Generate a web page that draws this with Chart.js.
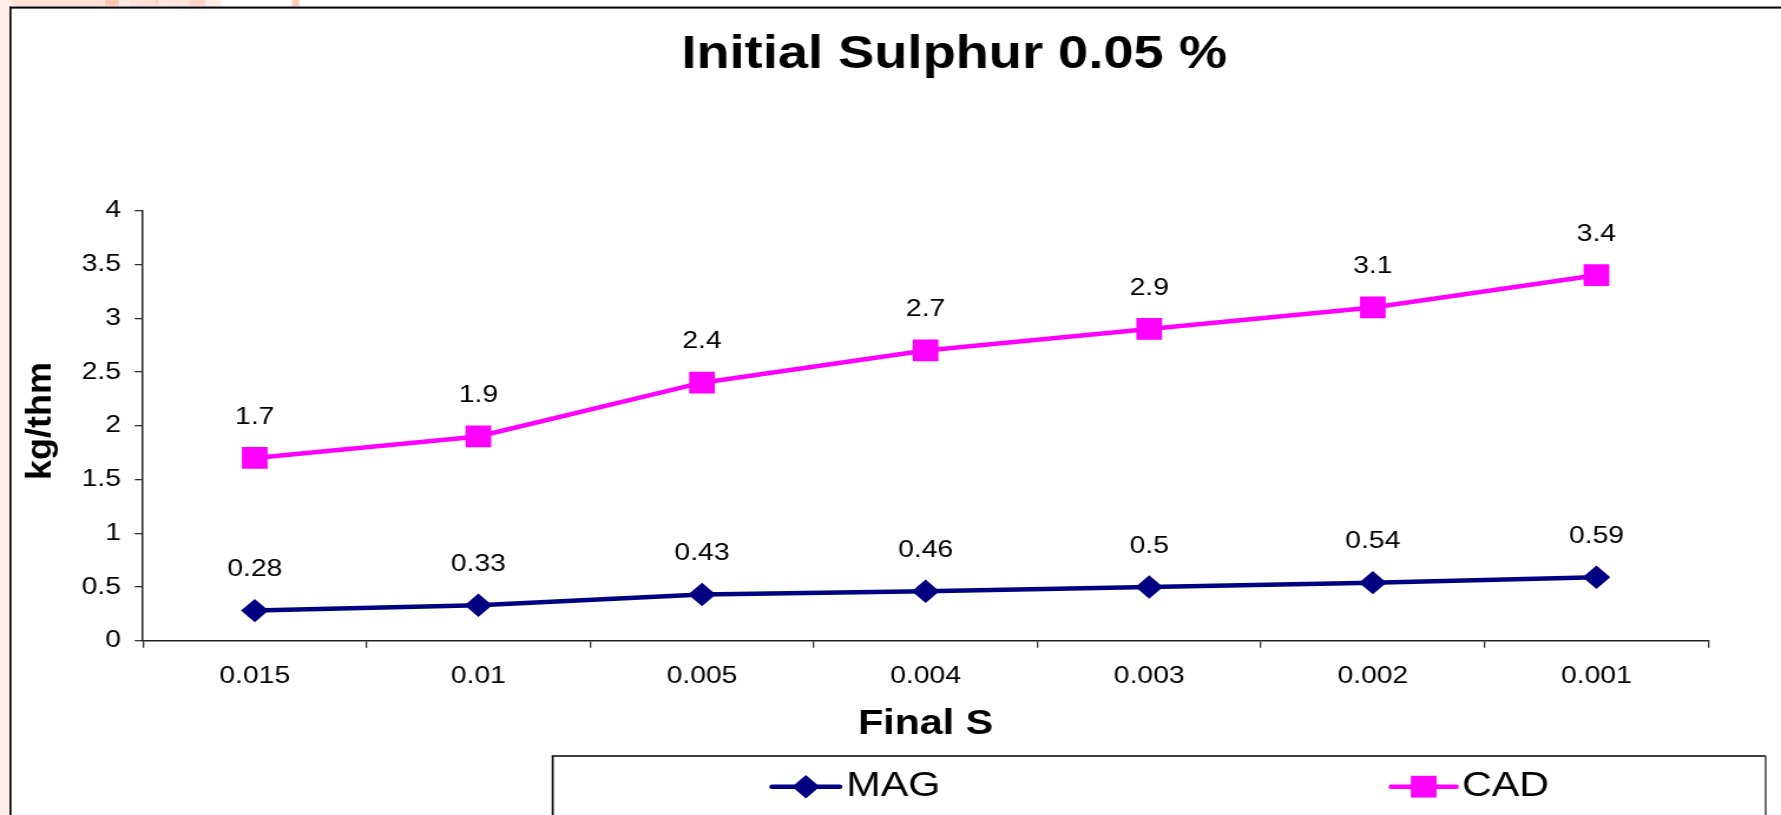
<!DOCTYPE html>
<html lang="en">
<head>
    <title>Initial Sulphur 0.05 %</title>
    <meta charset="UTF-8">
    <script src="https://cdn.jsdelivr.net/npm/chart.js@4.4.1/dist/chart.umd.min.js"></script>
    <style>
        html, body {margin:0;padding:0;background:#fff;overflow:hidden;}
        /* the sheet is drawn narrow and widened, so text and markers come out wide */
        #sulphurChart {display:block;transform:scaleX(1.17947);transform-origin:0 0;}
    </style>
</head>
<body>
<canvas id="sulphurChart" width="1510" height="815"></canvas>
<script>
    const finalS = ['0.015', '0.01', '0.005', '0.004', '0.003', '0.002', '0.001'];
    const magValues = [0.28, 0.33, 0.43, 0.46, 0.5, 0.54, 0.59];
    const cadValues = [1.7, 1.9, 2.4, 2.7, 2.9, 3.1, 3.4];
    const yTicks = [0, 0.5, 1, 1.5, 2, 2.5, 3, 3.5, 4];

    const FONT = 'Arial, "Liberation Sans", Helvetica, sans-serif';
    Chart.defaults.font.family = FONT;
    Chart.defaults.color = '#000';

    // pink strip of the slide behind the chart frame: [from, to, colour] in page px
    const slideBits = [
        [0, 12, '#fdeee9'], [12, 105, '#fde0d6'], [105, 119, '#fcc8b4'], [119, 130, '#fde8e0'],
        [130, 155, '#fde0d6'], [155, 158, '#fcd0c0'], [158, 189, '#fde6dd'], [189, 206, '#fcd5c8'],
        [206, 221, '#fdeee8'], [292, 299, '#fcc8b4']
    ];
    const SX = 1.17947;

    const frame = {
        id: 'frame',
        beforeDraw(chart) {
            const {ctx, width, height} = chart;
            ctx.save();
            ctx.fillStyle = '#fff';
            ctx.fillRect(0, 0, width, height);
            ctx.fillStyle = '#fdeee9';
            ctx.fillRect(0, 0, 8.5, height);
            slideBits.forEach(([a, b, c]) => {
                ctx.fillStyle = c;
                ctx.fillRect(a / SX, 0, (b - a) / SX, 6.5);
            });
            ctx.fillStyle = '#888';
            ctx.fillRect(8, 6, width, 1);
            ctx.fillStyle = '#000';
            ctx.fillRect(8, 7, width, 1.6);
            ctx.fillRect(8, 6.5, 1.7, height);
            ctx.restore();
        }
    };

    const pointLabels = {
        id: 'pointLabels',
        afterDatasetsDraw(chart) {
            const ctx = chart.ctx;
            ctx.save();
            ctx.font = '24px ' + FONT;
            ctx.fillStyle = '#000';
            ctx.textAlign = 'center';
            ctx.textBaseline = 'middle';
            chart.data.datasets.forEach((ds, i) => {
                chart.getDatasetMeta(i).data.forEach((pt, j) => {
                    ctx.fillText(String(ds.data[j]), pt.x, pt.y - 41);
                });
            });
            ctx.restore();
        }
    };

    const headings = {
        id: 'headings',
        afterDraw(chart) {
            const ctx = chart.ctx;
            ctx.save();
            ctx.fillStyle = '#000';
            ctx.textAlign = 'center';
            ctx.textBaseline = 'alphabetic';
            ctx.font = 'bold 46px ' + FONT;
            ctx.fillText('Initial Sulphur 0.05 %', 809, 68);

            // value axis title, squeezed across its height
            ctx.translate(35, 421);
            ctx.rotate(-Math.PI / 2);
            ctx.scale(1, 0.8);
            ctx.textBaseline = 'middle';
            ctx.font = 'bold 36px ' + FONT;
            ctx.fillText('kg/thm', 0, 0);
            ctx.restore();
        }
    };

    // legend boxed along the bottom edge, one entry per series
    const legendSlots = [
        {from: 654.5, to: 712, text: 717.5},
        {from: 1179.5, to: 1234.6, text: 1239.5}
    ];
    const bottomLegend = {
        id: 'bottomLegend',
        afterDraw(chart) {
            const {ctx, height} = chart;
            const top = 756, left = 468.6, right = 1497, y = 786.7;
            ctx.save();
            ctx.strokeStyle = '#000';
            ctx.lineWidth = 1.7;
            ctx.beginPath();
            ctx.moveTo(left, height + 4);
            ctx.lineTo(left, top);
            ctx.lineTo(right, top);
            ctx.stroke();
            ctx.strokeStyle = '#555';
            ctx.beginPath();
            ctx.moveTo(right, top);
            ctx.lineTo(right, height + 4);
            ctx.stroke();

            chart.data.datasets.forEach((ds, i) => {
                const s = legendSlots[i];
                ctx.strokeStyle = ds.borderColor;
                ctx.lineWidth = ds.borderWidth;
                ctx.lineCap = 'round';
                ctx.beginPath();
                ctx.moveTo(s.from, y);
                ctx.lineTo(s.to, y);
                ctx.stroke();
                ctx.fillStyle = ds.pointBackgroundColor;
                ctx.strokeStyle = ds.pointBorderColor;
                Chart.helpers.drawPoint(ctx, {
                    pointStyle: ds.pointStyle, radius: ds.pointRadius, rotation: 0, borderWidth: 0
                }, (s.from + s.to) / 2, y);
                ctx.fillStyle = '#000';
                ctx.font = '35px ' + FONT;
                ctx.textAlign = 'left';
                ctx.textBaseline = 'middle';
                ctx.fillText(ds.label, s.text, y);
            });
            ctx.restore();
        }
    };

    let ctx = document.getElementById('sulphurChart');
    let sulphurChart = new Chart(ctx, {
        type: 'line',
        data: {
            labels: finalS,
            datasets: [{
                label: 'MAG',
                data: magValues,
                borderColor: '#000080',
                backgroundColor: '#000080',
                pointBackgroundColor: '#000080',
                pointBorderColor: '#000080',
                borderWidth: 4.5,
                pointStyle: 'rectRot',
                pointRadius: 11.7,
                pointBorderWidth: 0,
                tension: 0
            }, {
                label: 'CAD',
                data: cadValues,
                borderColor: '#ff00ff',
                backgroundColor: '#ff00ff',
                pointBackgroundColor: '#ff00ff',
                pointBorderColor: '#ff00ff',
                borderWidth: 4.5,
                pointStyle: 'rect',
                pointRadius: 15.4,
                pointBorderWidth: 0,
                tension: 0
            }]
        },
        options: {
            responsive: false,
            devicePixelRatio: 1,
            animation: false,
            layout: {padding: {left: 8.5, top: 210.7, right: 61.7, bottom: 64.3}},
            plugins: {
                legend: {display: false},
                title: {display: false},
                tooltip: {enabled: false}
            },
            scales: {
                x: {
                    offset: true,
                    grid: {offset: true, drawOnChartArea: false, drawTicks: true, tickLength: 7, color: '#333', lineWidth: 1.3},
                    border: {color: '#222', width: 1.5},
                    ticks: {font: {size: 24}, color: '#000', padding: 14, maxRotation: 0},
                    title: {display: true, text: 'Final S', font: {size: 35, weight: 'bold'}, color: '#000', padding: {top: 0, bottom: 5.5}},
                    afterFit: (scale) => { scale.height = 110; }
                },
                y: {
                    min: 0,
                    max: 4,
                    grid: {drawOnChartArea: false, drawTicks: true, tickLength: 7, color: '#333', lineWidth: 1.3},
                    border: {color: '#222', width: 1.5},
                    ticks: {font: {size: 24}, color: '#000', padding: 11.7, callback: (v) => String(v)},
                    afterBuildTicks: (scale) => { scale.ticks = yTicks.map((v) => ({value: v})); },
                    afterFit: (scale) => { scale.width = 112.7; }
                }
            }
        },
        plugins: [frame, pointLabels, headings, bottomLegend]
    });
</script>
</body>
</html>
